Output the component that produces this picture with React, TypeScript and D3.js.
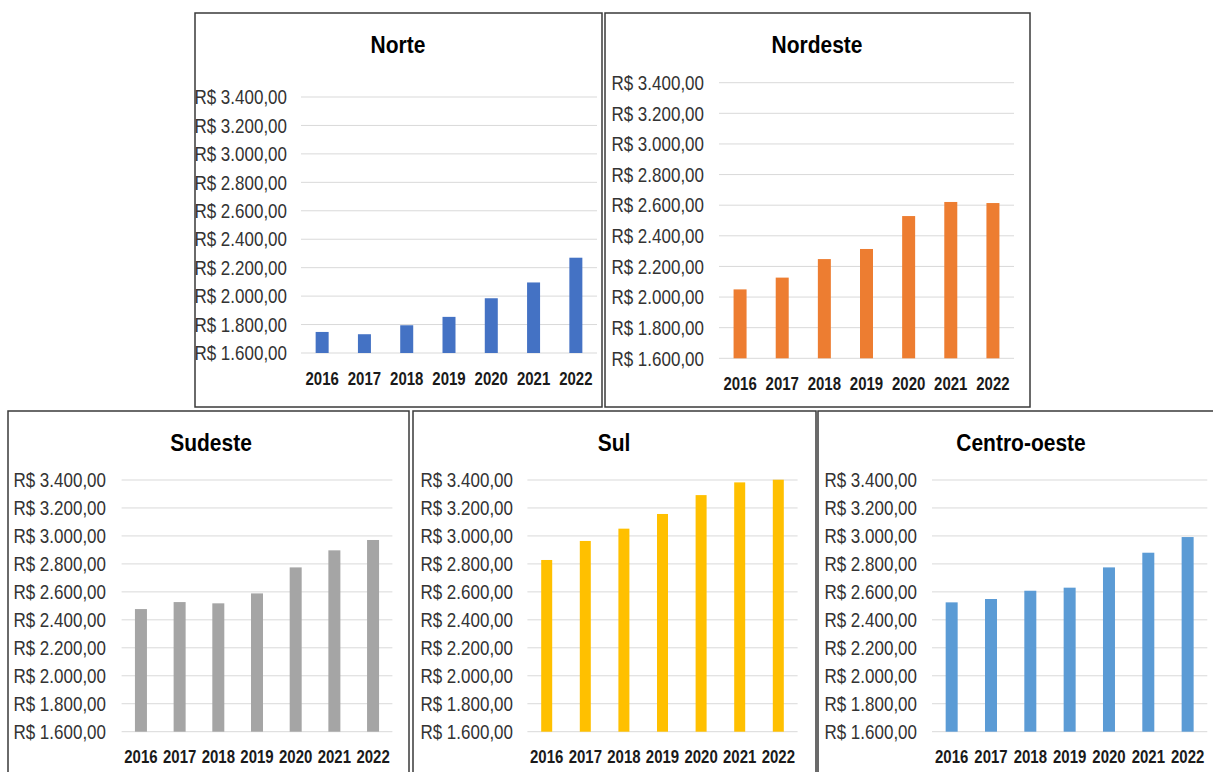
import * as d3 from 'd3';

const years = ['2016', '2017', '2018', '2019', '2020', '2021', '2022'];
const norte = [1748, 1732, 1795, 1854, 1985, 2096, 2270];
const nordeste = [2050, 2127, 2248, 2314, 2529, 2621, 2614];
const sudeste = [2477, 2527, 2518, 2589, 2775, 2897, 2971];
const sul = [2828, 2964, 3052, 3157, 3292, 3383, 3402];
const centroOeste = [2525, 2549, 2608, 2630, 2775, 2880, 2992];
const yTicks = [1600, 1800, 2000, 2200, 2400, 2600, 2800, 3000, 3200, 3400];

// layout of each panel, in page pixels
const panels = [
  { title: 'Norte', values: norte, color: '#4472C4', box: [195, 13, 407, 394], x: [301, 597], y: [353, 97], labelX: 287, titleX: 398, titleY: 53, yearY: 385, barW: 13 },
  { title: 'Nordeste', values: nordeste, color: '#ED7D31', box: [605, 13, 425, 394], x: [719, 1014], y: [358.3, 82.7], labelX: 704, titleX: 817, titleY: 53, yearY: 390, barW: 13 },
  { title: 'Sudeste', values: sudeste, color: '#A5A5A5', box: [8, 411, 401, 370], x: [121.6, 392.4], y: [731.7, 480], labelX: 106, titleX: 211, titleY: 451, yearY: 763, barW: 12 },
  { title: 'Sul', values: sul, color: '#FFC000', box: [413, 411, 403, 370], x: [527.4, 797.6], y: [731.7, 480], labelX: 513, titleX: 614, titleY: 451, yearY: 763, barW: 11 },
  { title: 'Centro-oeste', values: centroOeste, color: '#5B9BD5', box: [818, 411, 400, 370], x: [932, 1207.3], y: [731.7, 480], labelX: 917, titleX: 1021, titleY: 451, yearY: 763, barW: 12 },
];

const fmt = (v: number) => 'R$ ' + d3.format(',.2f')(v).replace(/,/g, '#').replace('.', ',').replace(/#/g, '.');
const font = '"Liberation Sans", Arial, sans-serif';
const sy = 1.18;

function Panel({ p }: { p: (typeof panels)[number] }) {
  const xScale = d3.scaleBand<string>().domain(years).range(p.x as [number, number]);
  const yScale = d3.scaleLinear().domain([1600, 3400]).range(p.y as [number, number]);
  const [bx, by, bw, bh] = p.box;
  return (
    <g>
      <rect x={bx} y={by} width={bw} height={bh} fill="#fff" stroke="#3a3a3a" strokeWidth={1.5} />
      <text transform={`translate(${p.titleX},${p.titleY}) scale(1,${sy})`} textAnchor="middle"
        fontFamily={font} fontWeight="bold" fontSize={21} fill="#000">{p.title}</text>
      {yTicks.map(t => (
        <g key={t}>
          <line x1={p.x[0]} x2={p.x[1]} y1={yScale(t)} y2={yScale(t)} stroke="#d9d9d9" strokeWidth={1} />
          <text transform={`translate(${p.labelX},${yScale(t)}) scale(1,${sy})`} dy="0.36em" textAnchor="end"
            fontFamily={font} fontSize={17} fill="#333">{fmt(t)}</text>
        </g>
      ))}
      {p.values.map((v, i) => (
        <rect key={i} x={xScale(years[i])! + xScale.bandwidth() / 2 - p.barW / 2} y={yScale(v)}
          width={p.barW} height={yScale(1600) - yScale(v)} fill={p.color} />
      ))}
      {years.map(yr => (
        <text key={yr} transform={`translate(${xScale(yr)! + xScale.bandwidth() / 2},${p.yearY}) scale(1,${sy})`}
          textAnchor="middle" fontFamily={font} fontWeight="bold" fontSize={15} fill="#1a1a1a">{yr}</text>
      ))}
    </g>
  );
}

export default function App() {
  return (
    <svg width={1213} height={772} style={{ position: 'absolute', left: 0, top: 0, background: '#fff' }}>
      {panels.map(p => <Panel key={p.title} p={p} />)}
    </svg>
  );
}
